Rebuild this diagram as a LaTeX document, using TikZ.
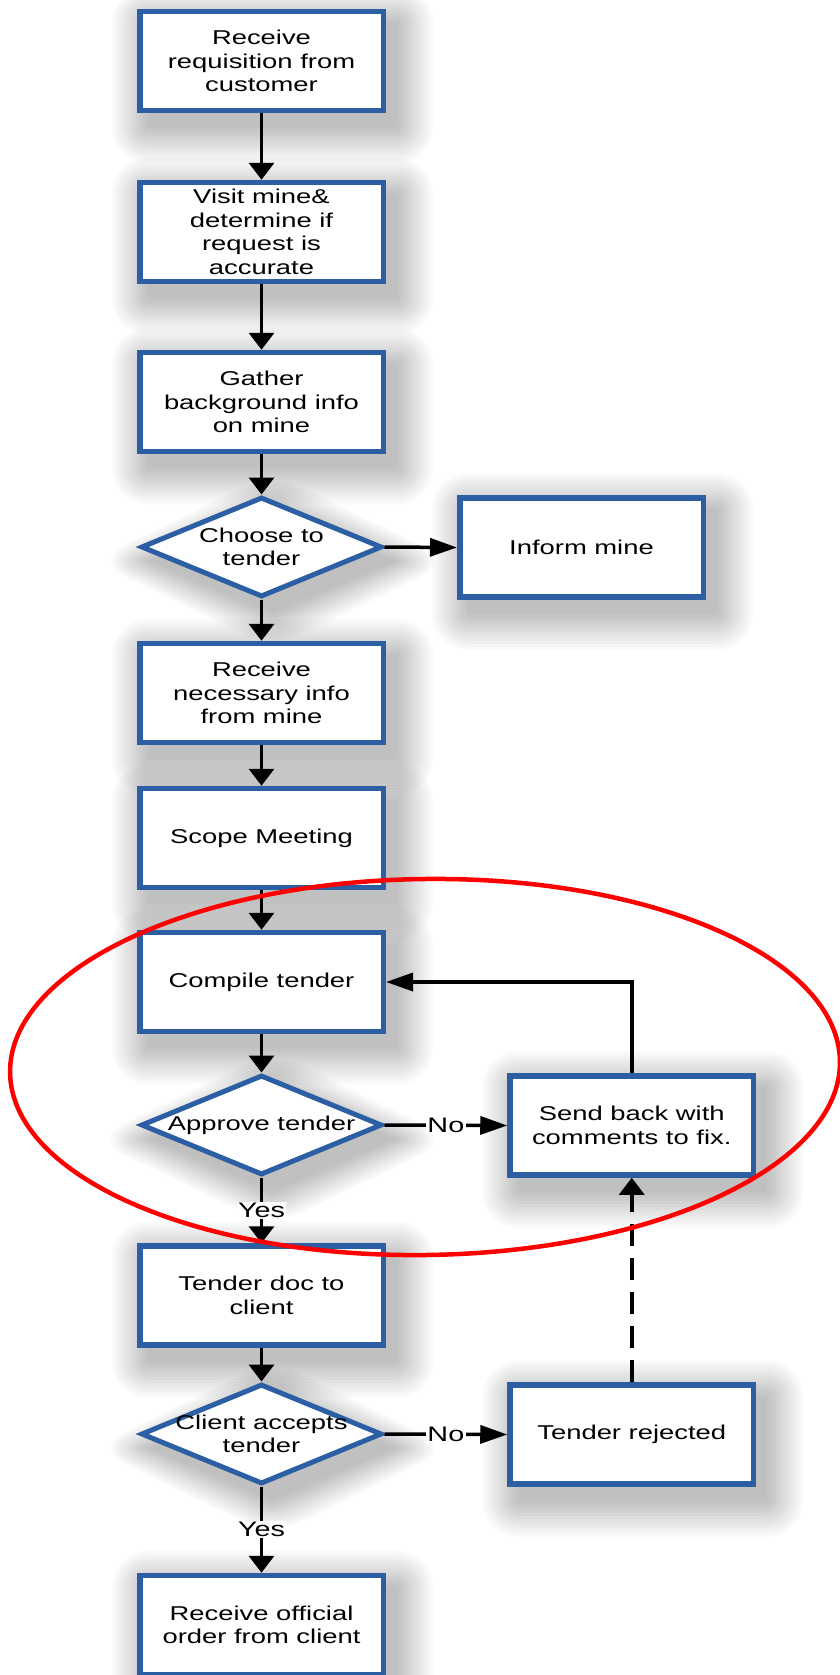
\documentclass[tikz,border=0pt]{standalone}
\usepackage{fontspec}
\setmainfont{Liberation Sans}[FakeStretch=1.37]
\usetikzlibrary{shapes.geometric,arrows.meta}
\definecolor{boxblue}{RGB}{44,94,164}
\definecolor{loopred}{RGB}{255,0,0}
\newcommand\flowfont{\fontsize{20}{23.5}\selectfont}
\pgfdeclarelayer{bg}
\pgfsetlayers{bg,main}
\tikzset{
  stepbox/.style={draw=boxblue, line width=5.5pt, fill=white,
      minimum width=243.5pt, minimum height=99pt, inner sep=0pt,
      align=center, font=\flowfont},
  decision/.style={diamond, draw=boxblue, line width=5pt, fill=white,
      minimum width=241pt, minimum height=100pt, inner sep=0pt},
  dtxt/.style={align=center, font=\flowfont, inner sep=0pt},
  flow/.style={line width=3.5pt, -{Triangle[length=17pt,width=25pt]}},
  sideflow/.style={line width=3.5pt, -{Triangle[length=27pt,width=18pt]}},
  tag/.style={fill=white, inner sep=1.5pt, font=\fontsize{21}{24}\selectfont},
  shadowlayer/.style={black, opacity=0.02},
}
% soft drop shadow: stacked translucent copies, growing outwards
\newcommand\boxshadow[1]{%
  \foreach \r in {0,3,...,36}{%
    \fill[shadowlayer, rounded corners=\r pt]
      ([shift={(11-\r,14-\r)}]#1.north west) rectangle
      ([shift={(11+\r,14+\r)}]#1.south east);
  }}
\newcommand\diashadow[1]{%
  \foreach \r in {0,3,...,36}{%
    \fill[shadowlayer, rounded corners=\r pt]
      ([shift={(11-1.6*\r,14)}]#1.west) -- ([shift={(11,14-\r)}]#1.north) --
      ([shift={(11+1.6*\r,14)}]#1.east) -- ([shift={(11,14+\r)}]#1.south) -- cycle;
  }}
\begin{document}
\begin{tikzpicture}[x=1pt,y=-1pt]
\useasboundingbox (0,0) rectangle (840,1675);
\begin{pgfonlayer}{bg}
  \fill[white] (0,0) rectangle (840,1675);
\end{pgfonlayer}

% main column
\node[stepbox] (b1) at (261.5,61) {Receive\\requisition from\\customer};
\node[stepbox] (b2) at (261.5,232) {Visit mine\&\\determine if\\request is\\accurate};
\node[stepbox] (b3) at (261.5,402) {Gather\\background info\\on mine};
\node[decision] (d1) at (261.5,547) {};
\node[dtxt] (d1t) at (d1.center) {Choose to\\tender};
\node[stepbox] (inf) at (581.5,547.5) {Inform mine};
\node[stepbox] (b4) at (261.5,693) {Receive\\necessary info\\from mine};
\node[stepbox] (b5) at (261.5,838) {Scope Meeting};
\node[stepbox] (b6) at (261.5,982) {Compile tender};
\node[decision] (d2) at (261.5,1125) {};
\node[dtxt] (d2t) at (d2.center) {Approve tender};
\node[stepbox] (snd) at (631.75,1125.5) {Send back with\\comments to fix.};
\node[stepbox] (b7) at (261.5,1295.5) {Tender doc to\\client};
\node[decision] (d3) at (261.5,1434) {};
\node[dtxt] (d3t) at (d3.center) {Client accepts\\tender};
\node[stepbox] (rej) at (631.75,1434.5) {Tender rejected};
\node[stepbox] (b8) at (261.5,1625) {Receive official\\order from client};

% shadows behind the shapes
\begin{pgfonlayer}{bg}
  \foreach \n in {b1,b2,b3,inf,b4,b5,b6,snd,b7,rej,b8}{\boxshadow{\n}}
  \foreach \n in {d1,d2,d3}{\diashadow{\n}}
\end{pgfonlayer}

% connectors
\draw[flow] (b1) -- (b2);
\draw[flow] (b2) -- (b3);
\draw[flow] (b3) -- (d1);
\draw[sideflow] (d1.east) -- (inf.west);
\draw[flow] (d1) -- (b4);
\draw[flow] (b4) -- (b5);
\draw[flow] (b5) -- (b6);
\draw[flow] (b6) -- (d2);
\draw[sideflow] (d2.east) -- node[tag] (no1) {No} (snd.west);
\draw[sideflow] (snd.north) |- (b6.east);
\draw[flow] (d2) -- node[tag] (yes1) {Yes} (b7);
\draw[flow] (b7) -- (d3);
\draw[sideflow] (d3.east) -- node[tag] (no2) {No} (rej.west);
\draw[flow] (d3) -- node[tag] (yes2) {Yes} (b8);
\draw[flow, dash pattern=on 22pt off 12pt] (rej) -- (snd);

% highlight around the review loop
\draw[loopred, line width=4.5pt, rotate around={0.8:(425,1066)}]
  (425,1067) ellipse [x radius=415, y radius=188];
\end{tikzpicture}
\end{document}
